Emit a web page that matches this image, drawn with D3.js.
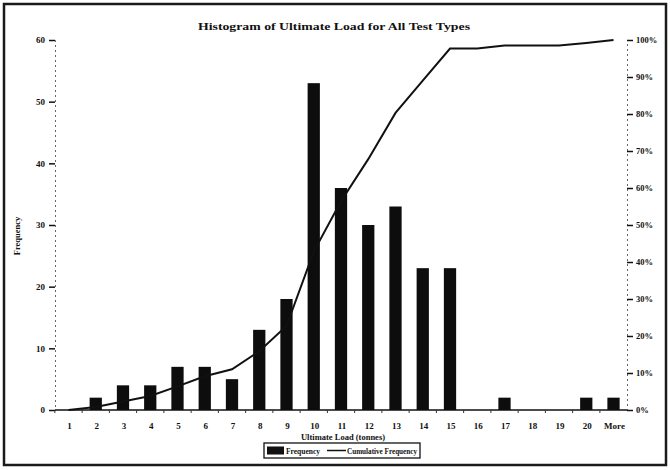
<!DOCTYPE html>
<html>
<head>
<meta charset="utf-8">
<script src="https://cdn.jsdelivr.net/npm/d3@7"></script>
<style>
    body { margin: 0; background: #fff; }
    text { font-family: "Liberation Serif", "DejaVu Serif", serif; font-weight: bold; fill: #111; }
</style>
</head>
<body>
<div id="chart"></div>
<script>
// values
var categories = ["1", "2", "3", "4", "5", "6", "7", "8", "9", "10", "11", "12", "13", "14", "15", "16", "17", "18", "19", "20", "More"];
var frequency = [0, 2, 4, 4, 7, 7, 5, 13, 18, 53, 36, 30, 33, 23, 23, 0, 2, 0, 0, 2, 2];
var cumulativePct = [0, 0.8, 2.3, 3.8, 6.4, 9.1, 11.0, 15.9, 22.7, 42.8, 56.4, 67.8, 80.3, 89.0, 97.7, 97.7, 98.5, 98.5, 98.5, 99.2, 100];
var freqTicks = [0, 10, 20, 30, 40, 50, 60];
var pctTicks = [0, 10, 20, 30, 40, 50, 60, 70, 80, 90, 100];

/**
 * Histogram with a cumulative line on a second axis
 */
function HistogramChart(){
    var self = this;
    self.init();
};

HistogramChart.prototype.init = function(){
    var self = this;
    self.width = 670;
    self.height = 470;
    self.plot = {left: 55, right: 627, top: 40, bottom: 410};

    self.svg = d3.select("#chart").append("svg")
        .attr("width", self.width)
        .attr("height", self.height);

    // outer frame of the chart
    self.svg.append("rect")
        .attr("x", 4).attr("y", 4)
        .attr("width", 662).attr("height", 461)
        .attr("fill", "none")
        .attr("stroke", "#1a1a1a")
        .attr("stroke-width", 2.5);

    self.x = d3.scaleBand()
        .domain(categories)
        .range([self.plot.left, self.plot.right])
        .paddingInner(0.55)
        .paddingOuter(0.27);

    self.y = d3.scaleLinear()
        .domain([0, 60])
        .range([self.plot.bottom, self.plot.top]);

    self.yPct = d3.scaleLinear()
        .domain([0, 100])
        .range([self.plot.bottom, self.plot.top]);
};

HistogramChart.prototype.drawAxes = function(){
    var self = this;
    var svg = self.svg;

    // left axis: dotted line, outward ticks
    var left = svg.append("g")
        .attr("transform", "translate(" + self.plot.left + ",0)")
        .call(d3.axisLeft(self.y).tickValues(freqTicks).tickSize(6).tickPadding(4));
    left.select(".domain").attr("stroke", "#666").attr("stroke-dasharray", "2,3");
    left.selectAll(".tick line").attr("stroke", "#111").attr("stroke-width", 1.5);
    left.selectAll(".tick text").attr("fill", "#111")
        .style("font-size", "9px").style("font-family", "Liberation Serif");

    // right axis in percent
    var right = svg.append("g")
        .attr("transform", "translate(" + self.plot.right + ",0)")
        .call(d3.axisRight(self.yPct).tickValues(pctTicks).tickSize(6).tickPadding(3)
            .tickFormat(function (d) { return d + "%"; }));
    right.select(".domain").attr("stroke", "#666").attr("stroke-dasharray", "2,3");
    right.selectAll(".tick line").attr("stroke", "#111").attr("stroke-width", 1.5);
    right.selectAll(".tick text").attr("fill", "#111")
        .style("font-size", "8.5px").style("font-family", "Liberation Serif");

    // bottom axis: ticks at the category boundaries, labels centred
    svg.append("line")
        .attr("x1", self.plot.left).attr("x2", self.plot.right)
        .attr("y1", self.plot.bottom).attr("y2", self.plot.bottom)
        .attr("stroke", "#111").attr("stroke-width", 1.5);

    svg.selectAll("line.xtick")
        .data(categories)
        .enter()
        .append("line")
        .classed("xtick", true)
        .attr("x1", function (d) { return self.x(d) - self.x.bandwidth() * 0.61; })
        .attr("x2", function (d) { return self.x(d) - self.x.bandwidth() * 0.61; })
        .attr("y1", self.plot.bottom)
        .attr("y2", self.plot.bottom + 3)
        .attr("stroke", "#333");

    svg.selectAll("text.xlabel")
        .data(categories)
        .enter()
        .append("text")
        .classed("xlabel", true)
        .attr("x", function (d) { return self.x(d) + self.x.bandwidth() / 2 + 1; })
        .attr("y", self.plot.bottom + 19)
        .attr("text-anchor", "middle")
        .style("font-size", "9px")
        .text(function (d) { return d; });

    // titles
    svg.append("text")
        .attr("x", 334).attr("y", 30)
        .attr("text-anchor", "middle")
        .attr("textLength", 272)
        .attr("lengthAdjust", "spacingAndGlyphs")
        .style("font-size", "10.5px")
        .text("Histogram of Ultimate Load for All Test Types");

    svg.append("text")
        .attr("x", 343).attr("y", 440)
        .attr("text-anchor", "middle")
        .style("font-size", "8.5px")
        .text("Ultimate Load (tonnes)");

    svg.append("text")
        .attr("transform", "translate(20,236) rotate(-90)")
        .attr("text-anchor", "middle")
        .style("font-size", "8.5px")
        .text("Frequency");
};

HistogramChart.prototype.drawData = function(){
    var self = this;
    var svg = self.svg;

    svg.selectAll("rect.bar")
        .data(frequency)
        .enter()
        .append("rect")
        .classed("bar", true)
        .attr("x", function (d, i) { return self.x(categories[i]); })
        .attr("y", function (d) { return self.y(d); })
        .attr("width", self.x.bandwidth())
        .attr("height", function (d) { return self.plot.bottom - self.y(d); })
        .attr("fill", "#0d0d0d");

    var line = d3.line()
        .x(function (d, i) { return self.x(categories[i]) + self.x.bandwidth() / 2; })
        .y(function (d) { return self.yPct(d); });

    svg.append("path")
        .datum(cumulativePct)
        .attr("d", line)
        .attr("fill", "none")
        .attr("stroke", "#111")
        .attr("stroke-width", 2);
};

HistogramChart.prototype.drawLegend = function(){
    var self = this;
    var g = self.svg.append("g").attr("transform", "translate(264,443)");

    g.append("rect")
        .attr("x", 0).attr("y", 0)
        .attr("width", 156).attr("height", 15)
        .attr("fill", "none")
        .attr("stroke", "#111")
        .attr("stroke-width", 1.3);

    g.append("rect")
        .attr("x", 3).attr("y", 3.5)
        .attr("width", 17).attr("height", 8)
        .attr("fill", "#111");

    g.append("text")
        .attr("x", 22).attr("y", 10.5)
        .style("font-size", "7.5px")
        .text("Frequency");

    g.append("line")
        .attr("x1", 63).attr("x2", 82)
        .attr("y1", 7.5).attr("y2", 7.5)
        .attr("stroke", "#111").attr("stroke-width", 1.5);

    g.append("text")
        .attr("x", 83).attr("y", 10.5)
        .attr("textLength", 70)
        .attr("lengthAdjust", "spacingAndGlyphs")
        .style("font-size", "7.5px")
        .text("Cumulative Frequency");
};

var chart = new HistogramChart();
chart.drawAxes();
chart.drawData();
chart.drawLegend();
</script>
</body>
</html>
